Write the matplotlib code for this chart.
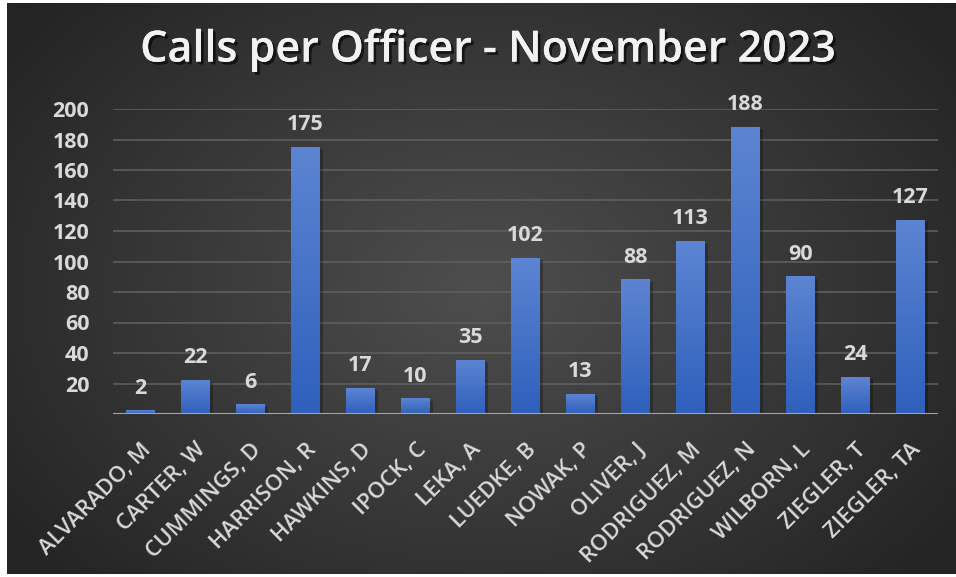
import numpy as np
import matplotlib
matplotlib.use("Agg")
import matplotlib.pyplot as plt
import matplotlib.patheffects as pe

# Datos del gráfico
officers = ['ALVARADO, M', 'CARTER, W', 'CUMMINGS, D', 'HARRISON, R', 'HAWKINS, D',
            'IPOCK, C', 'LEKA, A', 'LUEDKE, B', 'NOWAK, P', 'OLIVER, J',
            'RODRIGUEZ, M', 'RODRIGUEZ, N', 'WILBORN, L', 'ZIEGLER, T', 'ZIEGLER, TA']
calls = [2, 22, 6, 175, 17, 10, 35, 102, 13, 88, 113, 188, 90, 24, 127]
yticks = [20, 40, 60, 80, 100, 120, 140, 160, 180, 200]

W, H = 956, 577
fig = plt.figure(figsize=(W / 100, H / 100), dpi=100)
fig.patch.set_facecolor('white')

# Fondo con degradado radial (estilo Excel oscuro)
bg = fig.add_axes([7 / W, 3 / H, 1 - 7 / W, 1 - 6 / H])
bg.set_axis_off()
yy, xx = np.mgrid[0:1:300j, 0:1:500j]
r = np.sqrt(((xx - 0.5) / 0.62) ** 2 + ((yy - 0.5) / 0.75) ** 2)
r = np.clip(r, 0, 1)
lo, hi = np.array([0x4e, 0x4e, 0x4e]) / 255, np.array([0x24, 0x24, 0x24]) / 255
img = lo[None, None, :] * (1 - r[..., None]) + hi[None, None, :] * r[..., None]
bg.imshow(img, aspect='auto', extent=[0, 1, 0, 1])

ax = fig.add_axes([113 / W, 1 - 414 / H, 825 / W, (414 - 109) / H])
ax.patch.set_alpha(0)
x = np.arange(len(officers))
ax.set_xlim(-0.5, len(officers) - 0.5)
ax.set_ylim(0, 200)

for yv in yticks:
    ax.axhline(yv, color='#5e5e5e', lw=1.2, zorder=0)

# Barras con degradado vertical
grad = np.linspace(0, 1, 100)[:, None]
top_c = np.array([0x5d, 0x84, 0xd2]) / 255
bot_c = np.array([0x2e, 0x60, 0xbc]) / 255
grad_img = top_c * (1 - grad[..., None]) + bot_c * grad[..., None]
bars = ax.bar(x, calls, width=0.52, color='none', edgecolor='none', zorder=2)
for b in bars:
    x0, w, h = b.get_x(), b.get_width(), b.get_height()
    # sombra
    ax.bar(x0 + w / 2 + 0.06, h, width=w, bottom=-1.2, color='black', alpha=0.25, zorder=1)
    ax.imshow(grad_img, aspect='auto', extent=[x0, x0 + w, 0, h], zorder=2)

ax.axhline(0, color='#a6a6a6', lw=2.2, zorder=3)

for xi, v in zip(x, calls):
    ax.text(xi, v + 8, str(v), ha='center', va='bottom', color='#d9d9d9',
            fontsize=15.5, fontweight='bold', family='Open Sans')

ax.set_yticks(yticks)
ax.set_yticklabels([str(t) for t in yticks], color='#d9d9d9', fontsize=15.5,
                   fontweight='bold', family='Open Sans')
ax.set_xticks(x)
ax.set_xticklabels(officers, rotation=45, ha='right', rotation_mode='anchor',
                   color='#d9d9d9', fontsize=16, fontweight='semibold', family='Open Sans')
ax.tick_params(axis='both', length=0)
ax.tick_params(axis='y', pad=17)
ax.tick_params(axis='x', pad=18)
for s in ax.spines.values():
    s.set_visible(False)

title = fig.text(487 / W, 1 - 50 / H, 'Calls per Officer - November 2023', ha='center', va='center',
                 color='#f2f2f2', fontsize=31, fontweight='semibold', family='Open Sans',
                 path_effects=[pe.withSimplePatchShadow(offset=(2, -2), shadow_rgbFace='black', alpha=0.6),
                               pe.Normal()])

fig.savefig('out.png', dpi=100)
